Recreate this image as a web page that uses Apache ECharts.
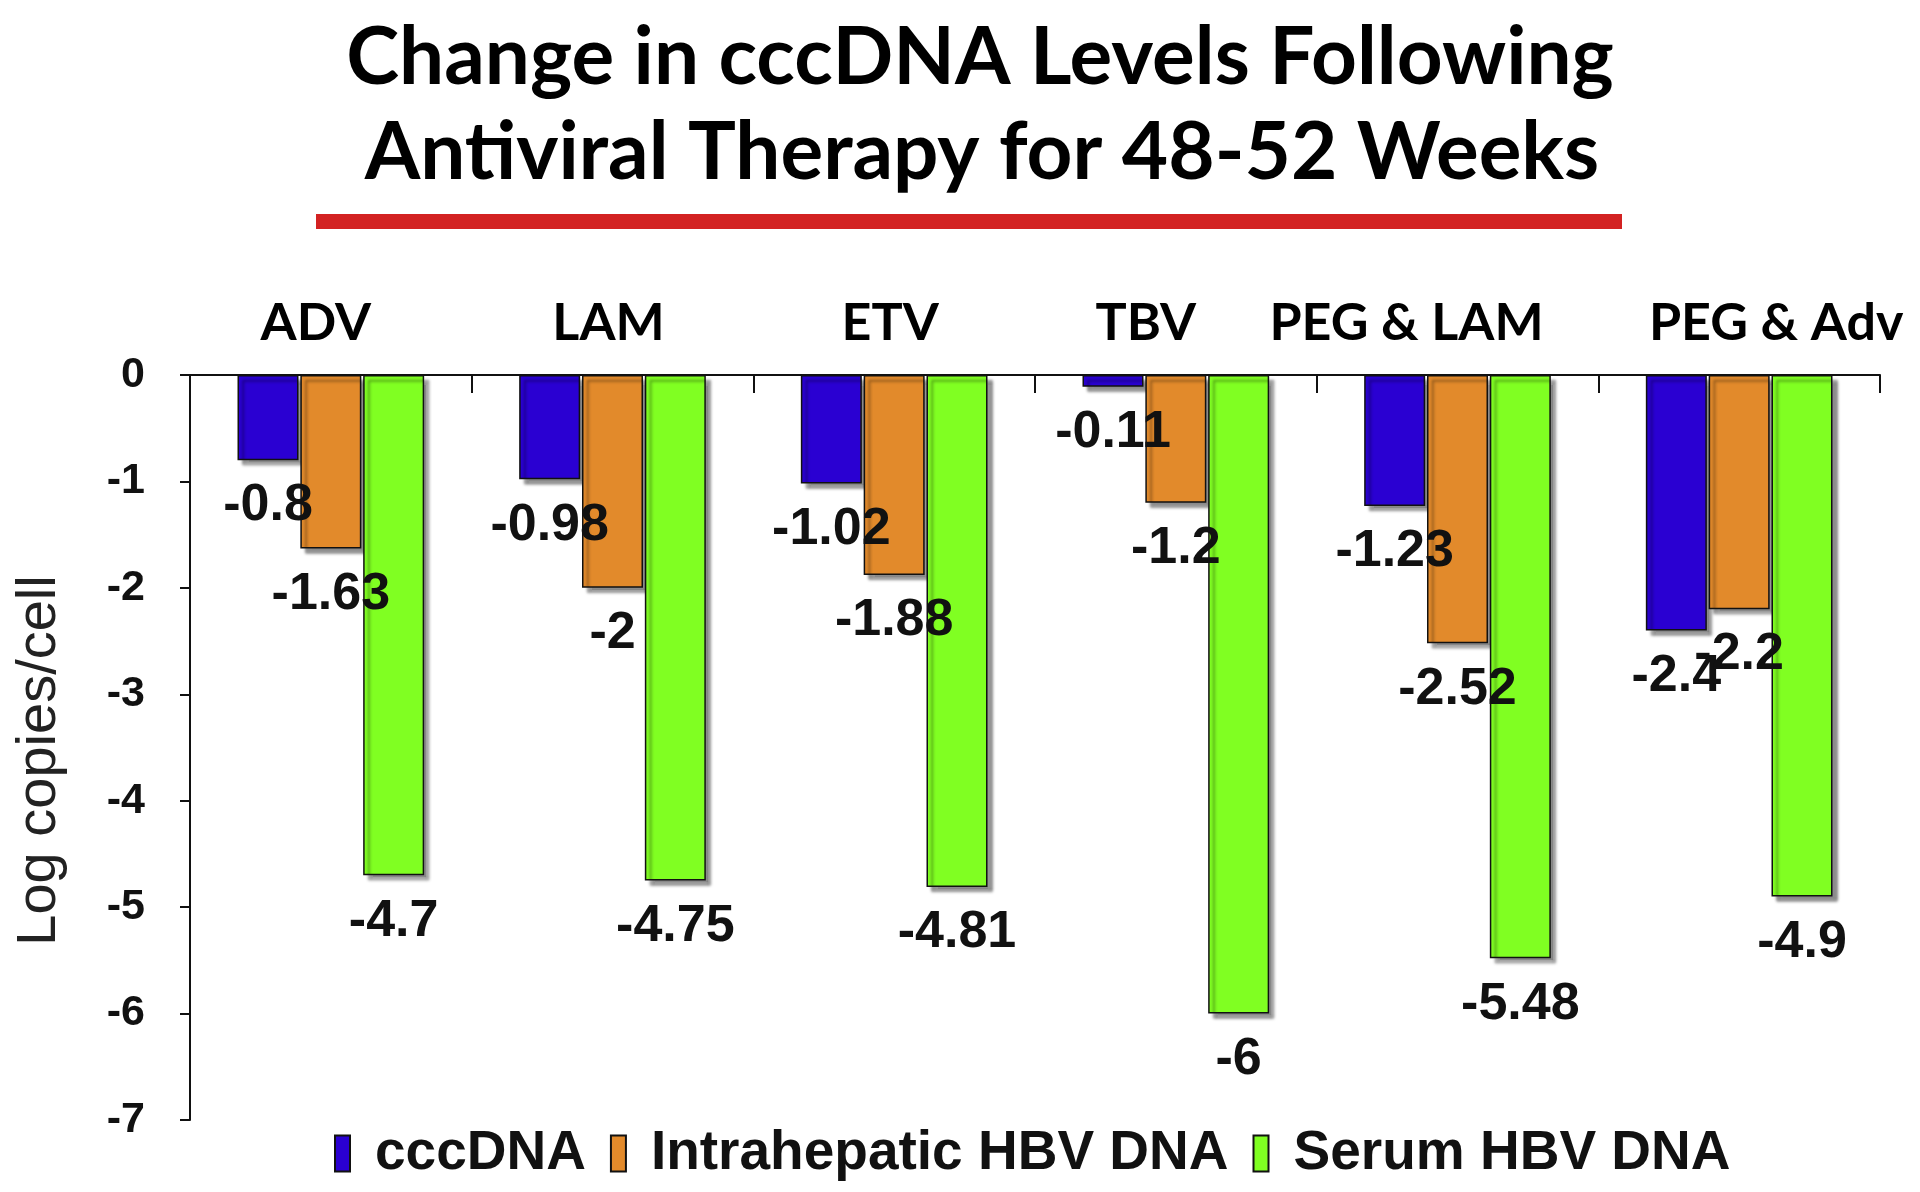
<!DOCTYPE html>
<html>
<head>
<meta charset="utf-8">
<script src="https://cdn.jsdelivr.net/npm/echarts@6/dist/echarts.min.js"></script>
<style>
html,body{margin:0;padding:0;background:#fff;}
#chart{width:1920px;height:1192px;}
</style>
</head>
<body>
<div id="chart"></div>
<script>
const categories = ['ADV', 'LAM', 'ETV', 'TBV', 'PEG & LAM', 'PEG & Adv'];
const seriesNames = ['cccDNA', 'Intrahepatic HBV DNA', 'Serum HBV DNA'];
const cccDNA = [-0.8, -0.98, -1.02, -0.11, -1.23, -2.4];
const intrahepatic = [-1.63, -2.0, -1.88, -1.2, -2.52, -2.2];
const serum = [-4.7, -4.75, -4.81, -6.0, -5.48, -4.9];
const yTicks = [0, -1, -2, -3, -4, -5, -6, -7];

const colors = ['#2A00D2', '#E28A2B', '#80FF22'];
const labelFont = 'Liberation Sans, Arial, sans-serif';
const titleFont = 'Lato, Open Sans, sans-serif';

// small per-category horizontal nudges of the top category labels
const catShift = {'ADV': -15, 'LAM': -4, 'ETV': -4, 'TBV': -30, 'PEG & LAM': -51, 'PEG & Adv': 37};

const chart = echarts.init(document.getElementById('chart'));

function mkSeries(name, data, idx) {
  return {
    name: name,
    type: 'bar',
    data: data,
    barWidth: 61,
    barGap: '3%',
    itemStyle: {
      color: colors[idx],
      borderColor: '#111',
      borderWidth: 1.5,
      shadowColor: 'rgba(0,0,0,0.45)',
      shadowOffsetX: 5,
      shadowOffsetY: 5,
      shadowBlur: 3
    },
    label: {
      show: true,
      position: 'bottom',
      distance: 20,
      fontFamily: labelFont,
      fontWeight: 'bold',
      fontSize: 52,
      color: '#111',
      formatter: p => String(p.value)
    },
    emphasis: {disabled: true},
    animation: false
  };
}

const option = {
  backgroundColor: '#fff',
  animation: false,
  graphic: [
    {type: 'text', x: 980, y: 58, style: {text: 'Change in cccDNA Levels Following', x: 0, y: 0, textAlign: 'center', textVerticalAlign: 'middle', font: 'bold 80px ' + titleFont, fill: '#000'}},
    {type: 'text', x: 982, y: 153, style: {text: 'Antiviral Therapy for 48-52 Weeks', x: 0, y: 0, textAlign: 'center', textVerticalAlign: 'middle', font: 'bold 80px ' + titleFont, fill: '#000'}},
    {type: 'rect', shape: {x: 316, y: 214, width: 1306, height: 15}, style: {fill: '#D32222'}}
  ],
  grid: {left: 190, top: 375, right: 40, bottom: 72, containLabel: false, outerBoundsMode: 'none'},
  legend: {
    data: seriesNames,
    left: 329,
    top: 1121,
    icon: 'rect',
    itemWidth: 15,
    itemHeight: 36,
    itemGap: 24,
    textStyle: {fontFamily: labelFont, fontWeight: 'bold', fontSize: 55, color: '#111', padding: [0, 0, 0, 20]},
    selectedMode: false
  },
  xAxis: {
    type: 'category',
    position: 'top',
    data: categories.map(c => ({value: c, textStyle: {padding: catShift[c] < 0 ? [0, -2 * catShift[c], 0, 0] : [0, 0, 0, 2 * catShift[c]]}})),
    axisLine: {show: true, lineStyle: {color: '#111', width: 2}},
    axisTick: {show: true, inside: true, length: 18, lineStyle: {color: '#111', width: 2}},
    axisLabel: {fontFamily: titleFont, fontWeight: 'bold', fontSize: 52, color: '#000', margin: 26, interval: 0},
    splitLine: {show: false}
  },
  yAxis: {
    type: 'value',
    min: -7,
    max: 0,
    interval: 1,
    name: 'Log copies/cell',
    nameLocation: 'middle',
    nameGap: 122,
    nameTextStyle: {fontFamily: labelFont, fontSize: 56, color: '#222', padding: [0, 26, 0, 0]},
    axisLine: {show: true, lineStyle: {color: '#111', width: 2}},
    axisTick: {show: true, length: 10, lineStyle: {color: '#111', width: 2}},
    axisLabel: {fontFamily: labelFont, fontWeight: 'bold', fontSize: 43, color: '#111', margin: 45,
      formatter: v => (yTicks.indexOf(v) >= 0 ? String(v) : '')},
    splitLine: {show: false}
  },
  series: [
    mkSeries(seriesNames[0], cccDNA, 0),
    mkSeries(seriesNames[1], intrahepatic, 1),
    mkSeries(seriesNames[2], serum, 2)
  ]
};
chart.setOption(option);
</script>
</body>
</html>
